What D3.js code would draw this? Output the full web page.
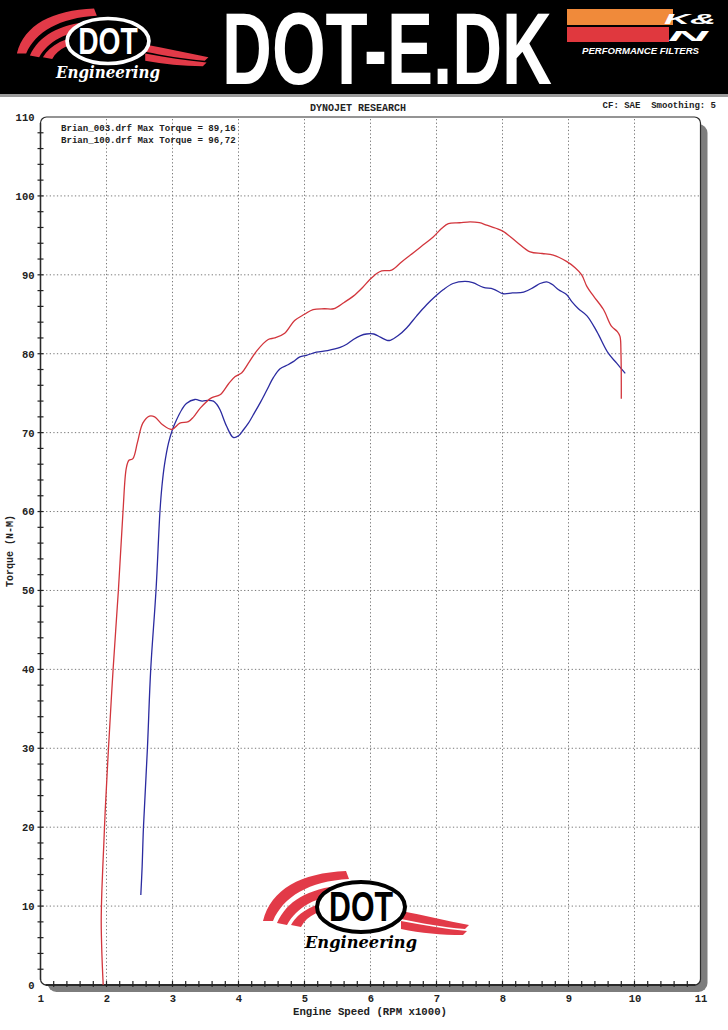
<!DOCTYPE html>
<html><head><meta charset="utf-8">
<script src="https://cdn.jsdelivr.net/npm/d3@7"></script>
<style>html,body{margin:0;padding:0;background:#fff}svg{display:block}</style>
</head><body>
<script>
// ---------- data ----------
const xTicks = [1,2,3,4,5,6,7,8,9,10,11];
const yTicks = [0,10,20,30,40,50,60,70,80,90,100,110];
const legendLines = ["Brian_003.drf Max Torque = 89,16", "Brian_100.drf Max Torque = 96,72"];
const titleText = "DYNOJET RESEARCH";
const infoText = "CF: SAE  Smoothing: 5";
const xLabel = "Engine Speed (RPM x1000)";
const yLabel = "Torque (N-M)";

// Brian_100 (red): [rpm x1000, torque N-m]
const brian100 = [[1.95,0],[1.93,4],[1.92,8],[1.93,12],[1.96,18],[1.98,22],[2.03,30],[2.10,40],[2.18,50],[2.25,60],[2.30,65.5],[2.34,66.5],[2.40,66.7],[2.47,68.8],[2.55,71.2],[2.65,72.1],[2.73,72.0],[2.85,71.0],[2.99,70.4],[3.11,71.2],[3.24,71.4],[3.32,72.0],[3.42,73.1],[3.59,74.4],[3.72,74.8],[3.85,76.2],[3.95,77.1],[4.05,77.6],[4.15,78.8],[4.28,80.4],[4.45,81.8],[4.55,82.0],[4.70,82.6],[4.85,84.2],[5.00,85.0],[5.13,85.6],[5.30,85.7],[5.44,85.7],[5.60,86.5],[5.74,87.3],[5.88,88.4],[5.99,89.4],[6.10,90.2],[6.17,90.5],[6.32,90.6],[6.48,91.7],[6.65,92.8],[6.80,93.8],[6.95,94.8],[7.08,95.9],[7.18,96.5],[7.35,96.6],[7.51,96.72],[7.65,96.6],[7.76,96.3],[7.90,95.9],[8.01,95.5],[8.21,94.2],[8.42,92.9],[8.60,92.7],[8.77,92.5],[8.97,91.7],[9.10,90.9],[9.20,90.0],[9.28,88.5],[9.38,87.3],[9.53,85.6],[9.65,83.5],[9.74,82.8],[9.78,82.2],[9.795,80.0],[9.80,74.3]];

// Brian_003 (blue)
const brian003 = [[2.52,11.4],[2.54,15],[2.56,20],[2.62,30],[2.67,40],[2.75,50],[2.81,60],[2.84,63.2],[2.88,66.0],[2.94,68.7],[3.00,70.4],[3.06,71.6],[3.14,72.9],[3.21,73.7],[3.34,74.2],[3.45,74.0],[3.54,74.1],[3.62,74.0],[3.67,73.6],[3.72,72.9],[3.82,70.8],[3.92,69.4],[4.00,69.6],[4.07,70.3],[4.15,71.2],[4.22,72.2],[4.33,73.8],[4.43,75.4],[4.53,77.0],[4.63,78.1],[4.75,78.6],[4.83,79.0],[4.93,79.6],[5.03,79.8],[5.18,80.2],[5.35,80.4],[5.54,80.8],[5.64,81.2],[5.74,81.8],[5.85,82.3],[5.94,82.5],[6.05,82.5],[6.15,82.1],[6.25,81.7],[6.30,81.7],[6.42,82.3],[6.55,83.3],[6.70,84.8],[6.85,86.2],[7.00,87.4],[7.10,88.1],[7.25,88.9],[7.43,89.16],[7.55,89.0],[7.71,88.4],[7.86,88.2],[8.01,87.6],[8.15,87.7],[8.32,87.8],[8.47,88.4],[8.57,88.9],[8.67,89.1],[8.75,88.8],[8.85,88.1],[8.97,87.5],[9.05,86.6],[9.15,85.7],[9.28,84.8],[9.43,82.8],[9.60,80.1],[9.73,78.8],[9.86,77.5]];

// ---------- drawing ----------
const W = 728, H = 1030;
const svg = d3.select("body").append("svg").attr("width", W).attr("height", H);
const mono = "'Liberation Mono', 'Courier New', monospace";
const narrow = "'Liberation Sans Narrow','Liberation Sans',Arial,sans-serif";

// Header banner
const hdr = svg.append("g");
hdr.append("rect").attr("x",0).attr("y",0).attr("width",W).attr("height",95).attr("fill","#000");
hdr.append("rect").attr("x",0).attr("y",94).attr("width",W).attr("height",3).attr("fill","#9a9a9a");

function dotLogo(g, cx, cy, sx, sy, dark){
  const red = "#e23a48";
  const ink = dark ? "#fff" : "#000";
  const L = g.append("g").attr("transform",`translate(${cx},${cy})`);
  const S = L.append("g").attr("transform",`scale(${sx},${sy})`);
  // left swooshes
  S.append("path").attr("fill",red).attr("d","M-98,14 C-90,-18 -60,-34 -15,-36 L-12,-28 C-52,-26 -78,-10 -88,14 Z");
  S.append("path").attr("fill",red).attr("d","M-84,16 C-74,-6 -54,-18 -18,-22 L-16,-14 C-46,-10 -64,0 -74,18 Z");
  S.append("path").attr("fill",red).attr("d","M-70,18 C-62,4 -46,-4 -20,-8 L-18,0 C-40,2 -54,8 -60,20 Z");
  // right swooshes
  S.append("path").attr("fill",red).attr("d","M40,4 C62,8 86,14 108,18 L104,22 C80,20 60,16 40,12 Z");
  S.append("path").attr("fill",red).attr("d","M40,14 C62,18 84,22 106,24 L102,28 C80,28 60,26 40,22 Z");
  // oval
  S.append("ellipse").attr("cx",0).attr("cy",0).attr("rx",44).attr("ry",25)
    .attr("fill", dark ? "#000" : "#fff").attr("stroke", ink).attr("stroke-width",4);
  L.append("text").attr("x",0).attr("y",14*sy).attr("text-anchor","middle")
    .attr("font-family",narrow).attr("font-weight","bold")
    .attr("font-size",42*sy).attr("textLength",64*sx).attr("lengthAdjust","spacingAndGlyphs")
    .attr("fill", ink).text("DOT");
  L.append("text").attr("x",0).attr("y",41*sy).attr("text-anchor","middle")
    .attr("font-family","'DejaVu Serif',serif").attr("font-style","italic").attr("font-weight","bold")
    .attr("font-size",17).attr("textLength",112*sx).attr("lengthAdjust","spacingAndGlyphs")
    .attr("fill", ink).text("Engineering");
}
dotLogo(hdr, 108, 41, 0.93, 0.9, true);

hdr.append("text").attr("x",222).attr("y",84)
  .attr("font-family",narrow).attr("font-weight","bold")
  .attr("font-size",102).attr("textLength",330).attr("lengthAdjust","spacingAndGlyphs")
  .attr("fill","#fff").text("DOT-E.DK");

// K&N logo
hdr.append("rect").attr("x",567).attr("y",9).attr("width",106).attr("height",16).attr("fill","#f08a3a");
hdr.append("rect").attr("x",567).attr("y",27).attr("width",102).attr("height",15).attr("fill","#e0383e");
hdr.append("text").attr("x",664).attr("y",24).attr("font-family","'Liberation Sans',Arial,sans-serif")
  .attr("font-weight","bold").attr("font-style","italic").attr("font-size",15)
  .attr("textLength",52).attr("lengthAdjust","spacingAndGlyphs").attr("fill","#fff").text("K&");
hdr.append("text").attr("x",668).attr("y",41).attr("font-family","'Liberation Sans',Arial,sans-serif")
  .attr("font-weight","bold").attr("font-style","italic").attr("font-size",15)
  .attr("textLength",40).attr("lengthAdjust","spacingAndGlyphs").attr("fill","#fff").text("N");
hdr.append("text").attr("x",582).attr("y",54).attr("font-family",narrow)
  .attr("font-weight","bold").attr("font-style","italic").attr("font-size",9.5)
  .attr("textLength",117).attr("lengthAdjust","spacingAndGlyphs").attr("fill","#fff").text("PERFORMANCE FILTERS");

// Scales
const x = d3.scaleLinear().domain([1,11]).range([40.5,700.5]);
const y = d3.scaleLinear().domain([0,110]).range([985,117]);

// Frame with shadow
const x0 = x(1), x1 = x(11), y0 = y(0), y1 = y(110);
svg.append("rect").attr("x",x0+7).attr("y",y1+7).attr("width",x1-x0).attr("height",y0-y1)
  .attr("rx",9).attr("fill","#7d7d7d");
svg.append("rect").attr("x",x0).attr("y",y1).attr("width",x1-x0).attr("height",y0-y1)
  .attr("rx",6).attr("fill","#fff").attr("stroke","#2a2a2a").attr("stroke-width",1.2);

// Grid
const grid = svg.append("g").attr("stroke","#7a7a7a").attr("stroke-width",1).attr("stroke-dasharray","1.3,2.3");
grid.selectAll("line.v").data(xTicks.filter(d=>d>1 && d<11)).join("line")
  .attr("x1",d=>x(d)).attr("x2",d=>x(d)).attr("y1",y1+2).attr("y2",y0-2);
grid.selectAll("line.h").data(yTicks.filter(d=>d>0 && d<110)).join("line")
  .attr("x1",x0+2).attr("x2",x1-1).attr("y1",d=>y(d)).attr("y2",d=>y(d));

// Axes (labels via d3 axes)
const xAxis = d3.axisBottom(x).tickValues(xTicks).tickSize(0).tickPadding(10).tickFormat(d3.format("d"));
const gx = svg.append("g").attr("transform",`translate(0,${y0})`).call(xAxis);
gx.select(".domain").remove();
gx.selectAll("text").attr("font-family",mono).attr("font-weight","bold").attr("font-size",10.5).attr("fill","#222");

const yAxis = d3.axisLeft(y).tickValues(yTicks).tickSize(0).tickPadding(6).tickFormat(d3.format("d"));
const gy = svg.append("g").attr("transform",`translate(${x0},0)`).call(yAxis);
gy.select(".domain").remove();
gy.selectAll("text").attr("font-family",mono).attr("font-weight","bold").attr("font-size",10.5).attr("fill","#222");

// bottom axis line (thicker)
svg.append("line").attr("x1",x0+5).attr("x2",x1-5).attr("y1",y0).attr("y2",y0).attr("stroke","#2a2a2a").attr("stroke-width",2);
svg.append("line").attr("x1",x0).attr("x2",x0).attr("y1",y1+6).attr("y2",y0-5).attr("stroke","#2a2a2a").attr("stroke-width",1.4);

// minor ticks
const xMinor = d3.range(1.2, 10.95, 0.2);
svg.append("g").selectAll("line").data(xMinor).join("line")
  .attr("x1",d=>x(d)).attr("x2",d=>x(d)).attr("y1",y0-4).attr("y2",y0+2)
  .attr("stroke","#222").attr("stroke-width",1.2);
const yMinor = d3.range(2, 109, 2);
svg.append("g").selectAll("line").data(yMinor).join("line")
  .attr("x1",x0-3).attr("x2",x0+3).attr("y1",d=>y(d)).attr("y2",d=>y(d))
  .attr("stroke","#222").attr("stroke-width",1.2);

// Texts
svg.append("text").attr("x",358).attr("y",111).attr("text-anchor","middle").attr("font-family",mono)
  .attr("font-weight","bold").attr("font-size",10).attr("fill","#222").text(titleText);
svg.append("text").attr("x",716).attr("y",108).attr("text-anchor","end").attr("font-family",mono)
  .attr("font-weight","bold").attr("font-size",9).attr("xml:space","preserve").style("white-space","pre")
  .attr("fill","#222").text(infoText);
svg.append("g").selectAll("text").data(legendLines).join("text")
  .attr("x",61).attr("y",(d,i)=>131+i*12).attr("font-family",mono).attr("font-weight","bold")
  .attr("font-size",9.1).attr("fill","#222").text(d=>d);
svg.append("text").attr("x",370).attr("y",1015).attr("text-anchor","middle").attr("font-family",mono)
  .attr("font-weight","bold").attr("font-size",10.7).attr("fill","#222").text(xLabel);
svg.append("text").attr("transform","translate(13,551) rotate(-90)").attr("text-anchor","middle")
  .attr("font-family",mono).attr("font-weight","bold").attr("font-size",10).attr("fill","#222").text(yLabel);

// Watermark logo
dotLogo(svg.append("g"), 361, 907, 1.0, 1.0, false);

// Curves
const line = d3.line().x(d=>x(d[0])).y(d=>y(d[1])).curve(d3.curveCatmullRom.alpha(0.5));
svg.append("path").datum(brian003).attr("d",line).attr("fill","none").attr("stroke","#2b2ba0").attr("stroke-width",1.3);
svg.append("path").datum(brian100).attr("d",line).attr("fill","none").attr("stroke","#d2353c").attr("stroke-width",1.3);
</script>
</body></html>
